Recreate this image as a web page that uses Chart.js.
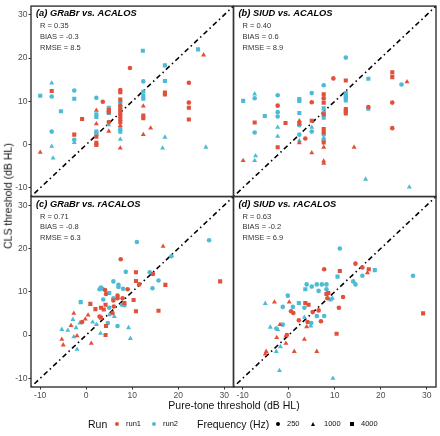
<!DOCTYPE html>
<html><head><meta charset="utf-8">
<script src="https://cdn.jsdelivr.net/npm/chart.js@4"></script>
<style>
html,body{margin:0;padding:0;background:#fff;}
#wrap{position:relative;width:440px;height:436px;font-family:"Liberation Sans",Arial,sans-serif;overflow:hidden;}
#c{position:absolute;left:0;top:0;}
.t{position:absolute;white-space:nowrap;color:#111;line-height:1;}
.mk{position:absolute;}
</style></head><body>
<div id="wrap">
<canvas id="c" width="440" height="400" style="width:440px;height:400px"></canvas>
<div class="t" id="ytitle" style="left:8px;top:196px;font-size:10.5px;transform:translate(-50%,-50%) rotate(-90deg);">CLS threshold (dB HL)</div>
<div class="t" id="xtitle" style="left:234px;top:405px;font-size:10.5px;transform:translate(-50%,-50%);">Pure-tone threshold (dB HL)</div>
<div id="legend"></div>
</div>
<script>
// ---- axis range / ticks ----
const AXIS_MIN = -12;
const AXIS_MAX = 32;
const TICK_STEP = 10;

// ---- colours (run) ----
const RUN_COLORS = ['#E2503A', '#4DBBD5'];
const RUN_LABELS = ['run1', 'run2'];
const FREQ_LABELS = ['250', '1000', '4000'];
const FREQ_SHAPES = ['circle', 'triangle', 'rect'];

// ---- panel (a) GRaBr vs. ACALOS : [pure-tone, CLS] ----
const aRun1F250  = [[3.6,9.9],[9.5,17.7],[22.3,14.3],[22.3,9.7],[4.9,5.2],[7.4,12.6],[7.4,9.0]];
const aRun1F1000 = [[-10,-1.8],[2.2,7.9],[2.2,4.8],[4.9,3.1],[7.4,-0.8],[12.4,8.9],[12.4,2.3],[14.0,3.8],[25.5,20.7],[7.4,4.4]];
const aRun1F4000 = [[-7.5,12.4],[-2.6,2.3],[-0.9,5.9],[2.2,0.4],[2.2,-0.1],[2.2,1.8],[4.9,8.0],[4.9,7.5],[7.4,12.1],[7.4,10.4],[7.4,8.1],[7.4,7.4],[7.4,6.6],[7.4,5.9],[7.4,5.2],[12.4,6.7],[12.4,6.1],[17.1,12.0],[17.1,11.6],[22.3,8.5],[22.3,5.8]];
const aRun2F250  = [[-7.5,11.1],[-7.5,3.0],[-2.6,12.5],[-2.6,1.1],[2.2,10.8],[12.4,14.6],[7.4,9.7]];
const aRun2F1000 = [[-7.5,14.2],[-7.5,-0.4],[-7.2,-3.1],[-2.6,0.5],[7.4,1.2],[16.6,-0.8],[17.1,1.7],[26,-0.6],[4.9,4.6]];
const aRun2F4000 = [[-10,11.3],[-5.5,7.7],[-2.6,10.6],[2.2,7.0],[2.2,6.4],[2.2,3.0],[2.2,2.5],[4.9,8.5],[4.9,7.3],[7.4,8.6],[7.4,3.6],[7.4,3.0],[12.3,21.7],[12.4,12.2],[12.4,11.2],[12.4,10.6],[17.1,18.3],[17.1,14.7],[24.3,22.0]];

// ---- panel (b) SIUD vs. ACALOS ----
const bRun1F250  = [[-2.4,9.0],[3.6,1.4],[5.0,9.8],[9.7,15.3],[22.5,9.7],[22.5,3.8],[17.3,8.7],[7.6,10.7]];
const bRun1F1000 = [[-9.9,-3.7],[2.3,5.5],[2.3,0.4],[5.0,-1.9],[7.6,-0.6],[7.6,-3.8],[7.6,-4.3],[14.2,-0.6],[25.7,14.5]];
const bRun1F4000 = [[-7.4,5.1],[-2.4,-0.6],[-0.7,5.0],[2.3,4.9],[5.0,5.5],[7.6,11.6],[7.6,9.7],[7.6,7.0],[7.6,3.6],[7.6,2.8],[7.6,0.5],[12.4,14.8],[12.4,8.2],[12.4,7.7],[12.4,7.2],[22.5,16.7],[22.5,15.6]];
const bRun2F250  = [[-7.4,10.7],[-7.4,2.8],[-2.4,11.4],[-2.4,7.5],[-2.4,6.5],[2.3,4.5],[2.3,2.3],[5.0,11.9],[5.0,3.0],[7.6,13.7],[12.4,20.1],[24.5,13.9]];
const bRun2F1000 = [[-7.4,11.7],[-7.2,-2.6],[-7.4,-3.7],[-2.4,4.0],[-2.4,1.9],[2.3,0.9],[5.0,4.0],[16.7,-8.0],[26.2,-9.8],[7.6,1.6]];
const bRun2F4000 = [[-9.9,10.1],[-5.2,6.6],[2.3,10.5],[2.3,10.1],[2.3,7.3],[7.6,8.4],[7.6,7.4],[7.6,6.2],[7.6,2.4],[7.6,1.0],[12.4,11.9],[12.4,11.3],[12.4,10.8],[12.4,10.2],[17.3,15.2],[17.3,8.3]];

// ---- panel (c) GRaBr vs. rACALOS ----
const cRun1F250  = [[7.5,17.5],[14.5,14.1],[11.5,11.7],[4.1,10.4],[4.3,9.5],[9.0,10.6],[6.8,9.1],[6.8,8.5],[5.9,8.0],[7.9,8.5],[6.0,6.6],[-0.9,3.0],[2.9,4.3],[5.7,5.1]];
const cRun1F1000 = [[16.7,20.5],[-2.7,5.0],[0.4,4.6],[-0.2,3.7],[-3.3,2.2],[-2.0,-0.2],[-5.3,-1.0],[-5.0,-2.3],[1.1,-1.9]];
const cRun1F4000 = [[10.8,14.5],[29.1,12.4],[10.8,12.5],[17.2,11.6],[0.9,7.2],[10.3,8.1],[4.2,7.0],[8.3,7.4],[2.0,6.0],[3.2,6.3],[3.8,5.9],[10.8,5.5],[15.7,5.6],[3.2,4.0],[4.2,0.0],[4.3,2.1]];
const cRun2F250  = [[11.0,21.5],[26.7,21.9],[18.5,18.2],[8.6,14.6],[13.8,14.5],[15.7,12.6],[5.9,12.4],[7.0,11.6],[7.0,11.1],[3.2,11.0],[3.5,10.7],[2.9,10.6],[8.0,10.7],[14.4,10.8],[5.9,8.5],[3.7,8.2],[7.8,7.0],[8.3,6.9],[5.0,6.3],[4.7,2.8],[6.8,2.1]];
const cRun2F1000 = [[-2.9,3.6],[-1.4,2.8],[-2.2,1.7],[-2.7,-0.4],[-2.0,-3.3],[-5.3,1.3],[-4.0,1.1],[1.4,3.0],[2.2,2.4],[3.1,0.4],[5.0,4.7],[6.1,4.3],[9.2,1.7],[9.6,-0.8]];
const cRun2F4000 = [[-1.2,7.6],[5.0,9.7]];

// ---- panel (d) SIUD vs. rACALOS ----
const dRun1F250  = [[7.7,15.2],[14.5,16.5],[16.0,15.6],[11.8,8.8],[10.9,6.3],[6.5,5.7],[5.2,5.3],[8.4,8.5],[0.5,5.5],[1.0,5.1],[2.2,3.4],[4.1,3.0],[7.0,3.2],[-0.4,0.0]];
const dRun1F1000 = [[17.1,14.4],[-3.1,7.6],[0.1,7.6],[3.9,1.9],[-0.6,-0.2],[-1.9,2.4],[-2.6,-0.6],[-0.6,-1.9],[-4.9,-3.8],[-5.1,-4.4],[1.2,-3.8],[6.1,-3.8],[3.4,-1.0]];
const dRun1F4000 = [[17.4,15.2],[11.1,14.8],[29.2,5.0],[10.4,0.3],[8.2,9.5],[3.6,7.4],[4.3,7.0],[8.6,9.7]];
const dRun2F250  = [[11.1,20.0],[14.0,12.4],[14.5,11.7],[16.0,13.7],[27.0,13.7],[3.9,11.7],[5.0,11.2],[6.1,11.7],[7.2,11.7],[8.2,11.7],[8.2,10.6],[6.5,10.2],[-0.2,9.1],[-1.3,6.5],[0.9,6.5],[3.4,6.3],[6.1,4.4],[7.7,4.4],[4.9,2.8],[-1.3,2.4],[-2.7,1.5]];
const dRun2F1000 = [[9.6,-10.0],[-2.0,-8.2],[-5.1,7.3],[9.5,8.5],[3.4,4.1],[4.8,2.1],[-2.4,1.3],[-4.0,1.8],[-1.8,-2.7],[-2.7,-3.8]];
const dRun2F4000 = [[18.7,15.0],[10.6,13.5],[3.6,10.6],[2.2,7.4],[9.1,8.2]];

// ---- panel titles / statistics ----
const PANEL_TITLES = ['(a) GRaBr vs. ACALOS', '(b) SIUD vs. ACALOS', '(c) GRaBr vs. rACALOS', '(d) SIUD vs. rACALOS'];
const PANEL_R    = ['0.35', '0.40', '0.71', '0.63'];
const PANEL_BIAS = ['-0.3', '0.6', '-0.8', '-0.2'];
const PANEL_RMSE = ['8.5', '8.9', '6.3', '6.9'];

const PANELS = [
  {x:'xL', y:'yT', series:[[aRun1F250,aRun1F1000,aRun1F4000],[aRun2F250,aRun2F1000,aRun2F4000]]},
  {x:'xR', y:'yT', series:[[bRun1F250,bRun1F1000,bRun1F4000],[bRun2F250,bRun2F1000,bRun2F4000]]},
  {x:'xL', y:'yB', series:[[cRun1F250,cRun1F1000,cRun1F4000],[cRun2F250,cRun2F1000,cRun2F4000]]},
  {x:'xR', y:'yB', series:[[dRun1F250,dRun1F1000,dRun1F4000],[dRun2F250,dRun2F1000,dRun2F4000]]}
];

const RADIUS = {circle:2.3, triangle:2.9, rect:2.9};

const datasets = [];
PANELS.forEach((p) => {
  datasets.push({
    type:'line', data:[{x:AXIS_MIN,y:AXIS_MIN},{x:AXIS_MAX,y:AXIS_MAX}],
    xAxisID:p.x, yAxisID:p.y, borderColor:'#000', borderWidth:1.6,
    borderDash:[1.5,3.2,5,3.2], pointRadius:0, fill:false, order:5
  });
  p.series.forEach((runSeries, r) => {
    runSeries.forEach((pts, f) => {
      datasets.push({
        type:'scatter',
        data: pts.map(([x,y]) => ({x, y})),
        xAxisID:p.x, yAxisID:p.y,
        pointStyle: FREQ_SHAPES[f],
        pointRadius: RADIUS[FREQ_SHAPES[f]],
        backgroundColor: RUN_COLORS[r],
        borderColor: RUN_COLORS[r],
        borderWidth: 0,
        order: 1
      });
    });
  });
});

const FONT = '"Liberation Sans", Arial, sans-serif';
function axis(pos, stack) {
  return {
    type:'linear', position:pos, stack:stack, stackWeight:1,
    min:AXIS_MIN, max:AXIS_MAX,
    ticks:{stepSize:TICK_STEP, includeBounds:false, autoSkip:false, color:'#4D4D4D', font:{family:FONT, size:8.5}, padding:1, maxRotation:0},
    grid:{display:true, drawOnChartArea:false, drawTicks:true, tickLength:2.5, color:'#333', lineWidth:1},
    border:{display:false},
    afterFit: (s) => { if (pos === 'left') s.width = 31; else s.height = 13; }
  };
}

const panelDecor = {
  id:'panelDecor',
  afterDraw(chart) {
    const ctx = chart.ctx;
    PANELS.forEach((p, i) => {
      const xs = chart.scales[p.x], ys = chart.scales[p.y];
      ctx.save();
      ctx.strokeStyle = '#333';
      ctx.lineWidth = 1.4;
      ctx.strokeRect(xs.left, ys.top, xs.right - xs.left, ys.bottom - ys.top);
      ctx.fillStyle = '#000';
      ctx.textBaseline = 'middle';
      ctx.font = 'italic bold 9.3px ' + FONT;
      ctx.fillText(PANEL_TITLES[i], xs.left + 5, ys.top + 7.5);
      ctx.fillStyle = '#333';
      ctx.font = '7.5px ' + FONT;
      ctx.fillText('R = ' + PANEL_R[i], xs.left + 9, ys.top + 20);
      ctx.fillText('BIAS = ' + PANEL_BIAS[i], xs.left + 9, ys.top + 30.5);
      ctx.fillText('RMSE = ' + PANEL_RMSE[i], xs.left + 9, ys.top + 41.5);
      ctx.restore();
    });
  }
};

new Chart(document.getElementById('c'), {
  type:'scatter',
  data:{datasets},
  options:{
    responsive:false, animation:false, devicePixelRatio:1,
    layout:{padding:{left:0, top:4, right:2, bottom:0}},
    plugins:{legend:{display:false}, tooltip:{enabled:false}},
    scales:{
      yB: axis('left','v'),
      yT: axis('left','v'),
      xL: axis('bottom','h'),
      xR: axis('bottom','h')
    }
  },
  plugins:[panelDecor]
});

// ---- legend (HTML) ----
const lg = document.getElementById('legend');
function addText(txt, left, size) {
  const d = document.createElement('div');
  d.className = 't'; d.textContent = txt;
  d.style.left = left + 'px'; d.style.top = '424px';
  d.style.fontSize = size + 'px';
  d.style.transform = 'translateY(-50%)';
  lg.appendChild(d);
}
function addMarker(shape, color, cx) {
  const d = document.createElement('div');
  d.className = 'mk';
  if (shape === 'circle') {
    d.style.cssText += `left:${cx-2}px;top:422px;width:4px;height:4px;border-radius:50%;background:${color};`;
  } else if (shape === 'rect') {
    d.style.cssText += `left:${cx-2}px;top:422px;width:4px;height:4px;background:${color};`;
  } else {
    d.style.cssText += `left:${cx-2.5}px;top:421.5px;width:0;height:0;border-left:2.5px solid transparent;border-right:2.5px solid transparent;border-bottom:4.5px solid ${color};`;
  }
  lg.appendChild(d);
}
addText('Run', 88, 10.5);
addMarker('circle', RUN_COLORS[0], 117); addText(RUN_LABELS[0], 126, 7.5);
addMarker('circle', RUN_COLORS[1], 154); addText(RUN_LABELS[1], 163, 7.5);
addText('Frequency (Hz)', 197, 10.5);
addMarker('circle', '#000', 278); addText(FREQ_LABELS[0], 287, 7.5);
addMarker('triangle', '#000', 313); addText(FREQ_LABELS[1], 324, 7.5);
addMarker('rect', '#000', 352); addText(FREQ_LABELS[2], 361, 7.5);
</script>
</body></html>
